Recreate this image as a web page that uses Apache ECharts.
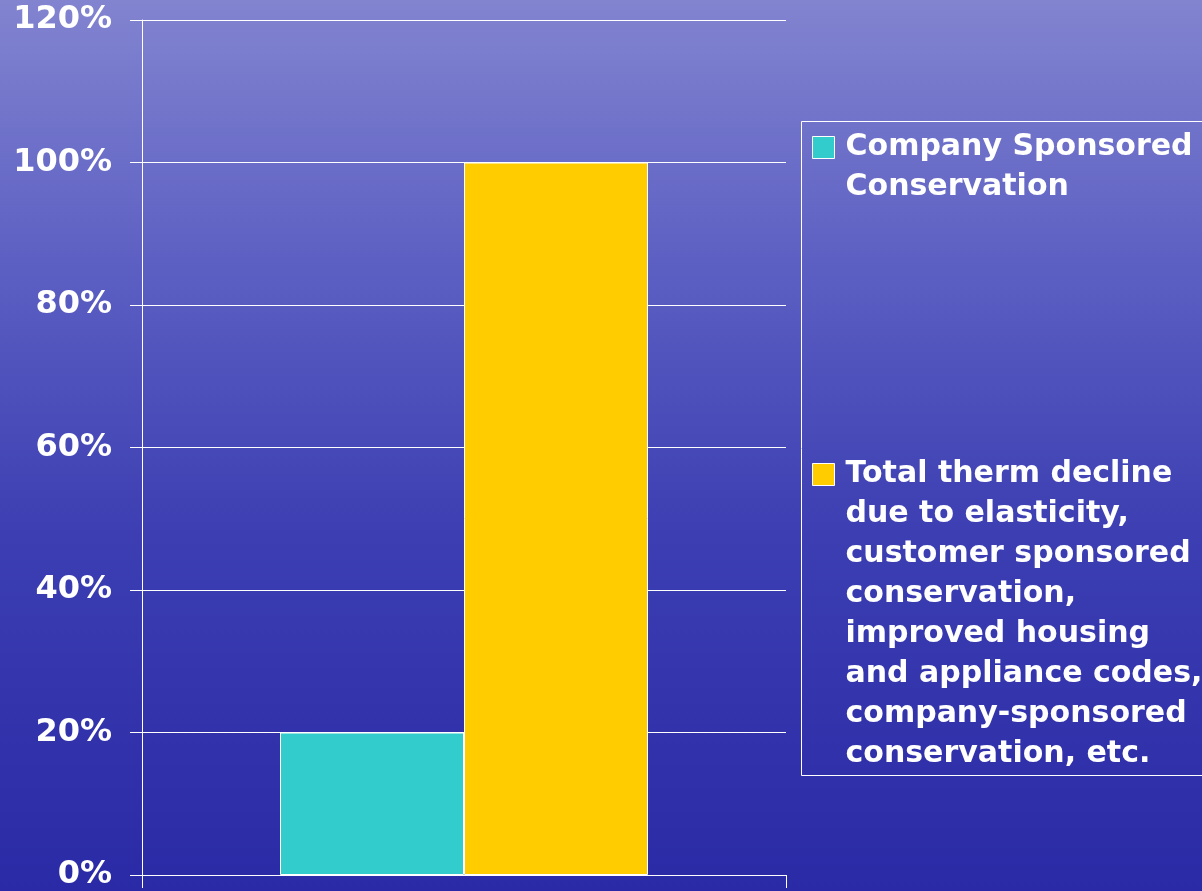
<!DOCTYPE html>
<html>
<head>
<meta charset="utf-8">
<script src="https://cdn.jsdelivr.net/npm/echarts@6/dist/echarts.min.js"></script>
<style>
html,body{margin:0;padding:0;width:1202px;height:891px;overflow:hidden;}
#c{width:1202px;height:891px;}
</style>
</head>
<body>
<div id="c"></div>
<script>
// ---- data ----
const categories = [''];
const seriesNames = ['Company Sponsored\nConservation',
  'Total therm decline\ndue to elasticity,\ncustomer sponsored\nconservation,\nimproved housing\nand appliance codes,\ncompany-sponsored\nconservation, etc.'];
const companySponsored = [0.20];
const totalDecline = [1.00];
const yTicks = [0, 0.2, 0.4, 0.6, 0.8, 1.0, 1.2];

const FONT = 'DejaVu Sans';
const LH = 40;
function lines(s){ return s.split('\n').length; }

const chart = echarts.init(document.getElementById('c'), null, {renderer:'canvas'});
const legendText = {color:'#fff', fontFamily:FONT, fontWeight:'bold', fontSize:30, lineHeight:LH, padding:[0,0,0,6]};
function legendFor(name, firstLineCenterY){
  const n = lines(name);
  const H = n*LH;
  // icon: square aligned with first text line, bounding box spanning whole text block
  const s0 = LH/2 - 11, s1 = LH/2 + 11;
  const icon = 'path://M0,0L0.01,0M0,' + s0 + 'L22,' + s0 + 'L22,' + s1 + 'L0,' + s1 + 'ZM0,' + H + 'L0.01,' + H;
  return {
    orient:'vertical', left:812, top: firstLineCenterY - LH/2, padding:0,
    itemWidth:22, itemHeight:H, icon:icon,
    itemStyle:{borderColor:'#fff', borderWidth:1},
    data:[name],
    textStyle: legendText,
    selectedMode:false
  };
}
chart.setOption({
  animation:false,
  backgroundColor:{type:'linear', x:0, y:0, x2:0, y2:1, colorStops:[
    {offset:0, color:'#8284d0'},{offset:0.3, color:'#5c5fc2'},{offset:0.6, color:'#3c3eb2'},{offset:1, color:'#2a2aa6'}]},
  grid:{left:142, right:416, top:20, bottom:16, containLabel:false},
  legend:[legendFor(seriesNames[0], 147), legendFor(seriesNames[1], 474)],
  graphic:[{type:'rect', shape:{x:801.5, y:121.5, width:440, height:654}, style:{fill:null, stroke:'#fff', lineWidth:1}, silent:true}],
  xAxis:{type:'category', data:categories, boundaryGap:true,
    axisLine:{show:true, lineStyle:{color:'#fff', width:1}},
    axisTick:{show:true, length:13, lineStyle:{color:'#fff'}},
    axisLabel:{show:false}, splitLine:{show:false}},
  yAxis:{type:'value', min:yTicks[0], max:yTicks[yTicks.length-1], interval:0.2,
    axisLine:{show:true, lineStyle:{color:'#fff', width:1}},
    axisTick:{show:true, length:12, lineStyle:{color:'#fff'}},
    splitLine:{show:true, lineStyle:{color:'#fff', width:1}},
    axisLabel:{color:'#fff', fontFamily:FONT, fontWeight:'bold', fontSize:32, margin:30,
      formatter:v=>Math.round(v*100)+'%'}},
  series:[
    {name:seriesNames[0], type:'bar', data:companySponsored, barWidth:184, barGap:'0%',
      itemStyle:{color:'#33cccc', borderColor:'#fff', borderWidth:1}},
    {name:seriesNames[1], type:'bar', data:totalDecline, barWidth:184, barGap:'0%',
      itemStyle:{color:'#ffcc00', borderColor:'#fff', borderWidth:1}}
  ]
});
</script>
</body>
</html>
